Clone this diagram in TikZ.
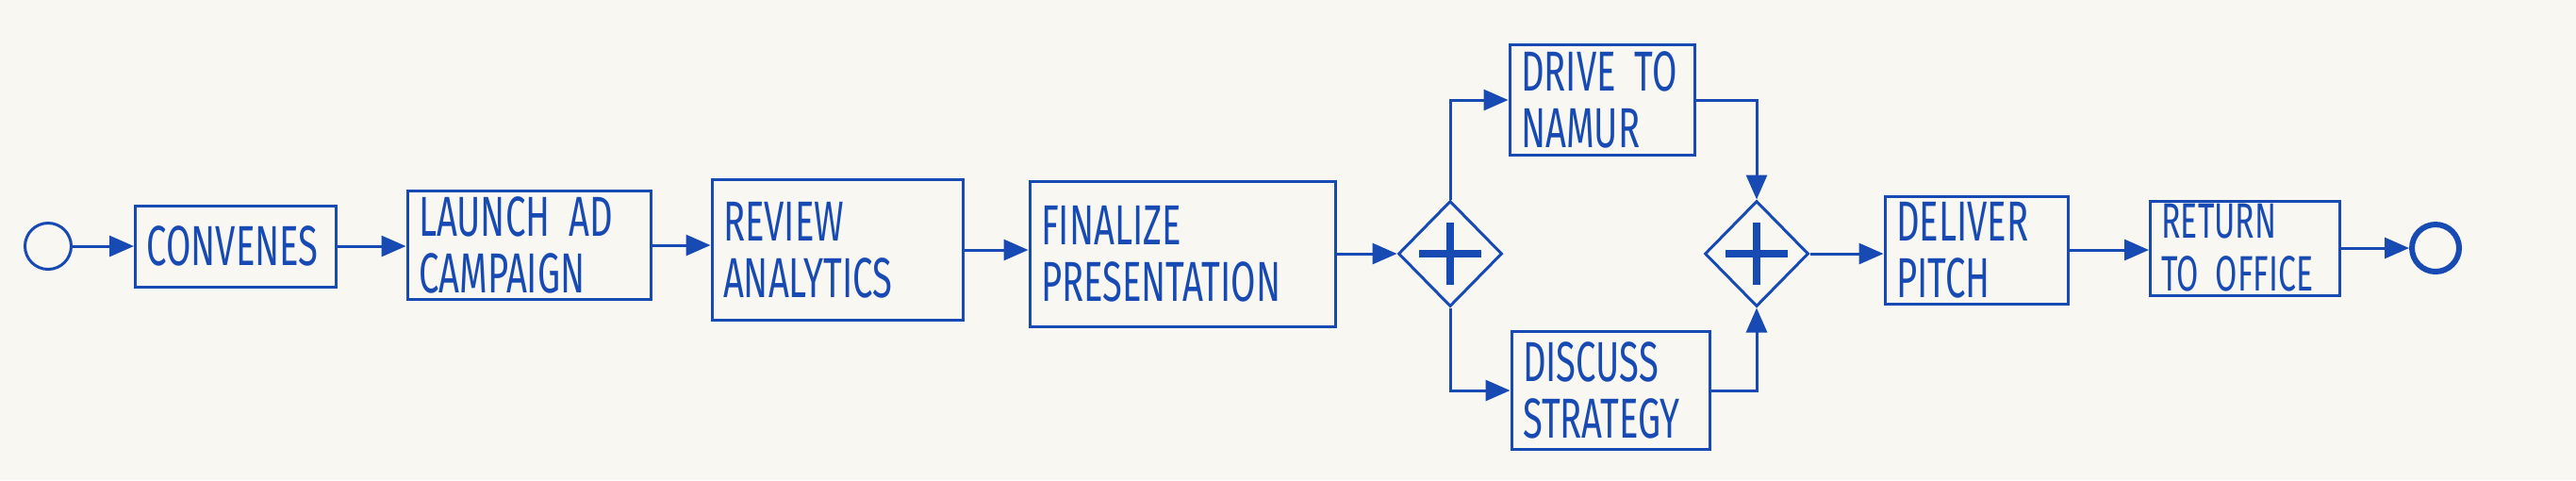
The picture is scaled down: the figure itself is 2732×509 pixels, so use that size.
\documentclass[tikz,border=0pt]{standalone}
\usepackage{fontspec}
\setmainfont[FakeStretch=0.64]{Fira Sans}
\usetikzlibrary{arrows.meta,shapes.geometric}
\definecolor{penblue}{RGB}{24,74,180}
\definecolor{paper}{RGB}{249,247,242}

\begin{document}
\hyphenpenalty=10000
\begin{tikzpicture}[x=0.1mm,y=-0.1mm,
    task/.style={rectangle,draw=penblue,line width=0.3mm,inner xsep=1.2mm,inner ysep=0pt,
      align=left,text=penblue,font=\fontsize{17}{17}\selectfont},
    event/.style={circle,draw=penblue,line width=0.3mm,inner sep=0pt},
    gate/.style={diamond,draw=penblue,line width=0.3mm,inner sep=0pt,aspect=1,
      minimum width=11mm,minimum height=11.2mm,
      path picture={
        \draw[penblue,line width=0.8mm] (path picture bounding box.center) ++(-3.3mm,0) -- ++(6.6mm,0);
        \draw[penblue,line width=0.8mm] (path picture bounding box.center) ++(0,-3.3mm) -- ++(0,6.6mm);}},
    flow/.style={-{Triangle[length=2.6mm,width=2.2mm]},penblue,line width=0.3mm}]
    \useasboundingbox (0,0) rectangle (2732,509);
    \fill[paper] (0,0) rectangle (2732,509);
    \node[event,minimum size=4.9mm] (startev) at (51,261) {};
    \node[task,text width=18.9mm,minimum height=8.6mm] (convenes) at (250,261) {CONVENES};
    \node[task,text width=23.4mm,minimum height=11.5mm] (launch) at (561,260) {LAUNCH AD\\CAMPAIGN};
    \node[task,text width=24.2mm,minimum height=14.9mm] (review) at (888,265) {REVIEW\\ANALYTICS};
    \node[task,text width=30.0mm,minimum height=15.4mm] (finalize) at (1254,269) {FINALIZE\\PRESENTATION};
    \node[gate] (gateA) at (1538,269) {};
    \node[task,text width=17.2mm,minimum height=11.7mm] (drive) at (1699,106) {DRIVE TO\\NAMUR};
    \node[task,text width=18.6mm,minimum height=12.5mm] (discuss) at (1708,414) {DISCUSS\\STRATEGY};
    \node[gate] (gateB) at (1863,269) {};
    \node[task,text width=17.0mm,minimum height=11.4mm] (deliver) at (2096,265) {DELIVER\\PITCH};
    \node[task,text width=17.7mm,minimum height=10.0mm,font=\fontsize{15}{16}\selectfont] (return) at (2381,263) {RETURN\\TO OFFICE};
    \node[event,line width=0.6mm,minimum size=5mm] (endev) at (2583,263) {};
    \foreach \a/\b in {startev/convenes,convenes/launch,launch/review,review/finalize,
                       finalize/gateA,gateB/deliver,deliver/return,return/endev} {
      \draw[flow] (\a.east) -- (\a.east -| \b.west);
    }
    \draw[flow] (gateA.north) |- (drive.west);
    \draw[flow] (gateA.south) |- (discuss.west);
    \draw[flow] (drive.east) -| (gateB.north);
    \draw[flow] (discuss.east) -| (gateB.south);
  \end{tikzpicture}
\end{document}
